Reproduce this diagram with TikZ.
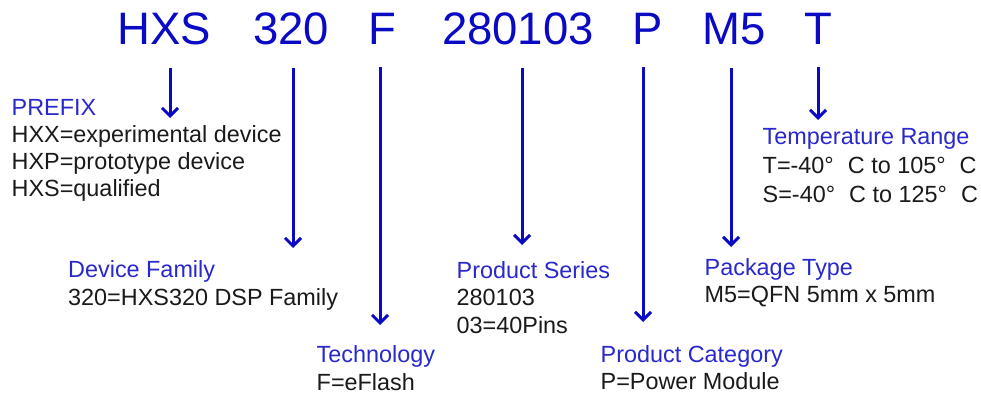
\documentclass[tikz,border=0pt]{standalone}
\usepackage{fontspec}
\setmainfont{Liberation Sans}
\usetikzlibrary{arrows.meta}
\definecolor{PartCode}{HTML}{0A0AC4}
\definecolor{PartLabel}{HTML}{2828CC}
\definecolor{PartInk}{HTML}{1A1A1A}
\tikzset{
  every node/.style={inner sep=0pt, text=PartInk, font=\fontsize{23.4}{27}\selectfont},
  code/.style={anchor=base, text=PartCode, font=\fontsize{45.5}{54}\selectfont},
  heading/.style={anchor=base west, text=PartLabel},
  entry/.style={anchor=base west},
  pointer/.style={-{Straight Barb[length=8pt,width=16pt]}, draw=PartCode, line width=3pt, shorten <=22pt},
}
\begin{document}
\begin{tikzpicture}[x=1pt, y=-1pt]
  \useasboundingbox (0,0) rectangle (981,398);
  % Part number fields
  \foreach \x/\part/\nm in {164/HXS/hxs, 291/320/fam, 382/F/tech, 518/280103/ser,
                            648/P/cat, 734/M5/pkg, 818/T/temp}
    \node[code] (\nm) at (\x,45) {\part};
  % Where each pointer ends
  \foreach \nm/\x/\y in {hxs/170/118, fam/293/248, tech/380/325, ser/522/245,
                         cat/643/322, pkg/731/247, temp/818/120}
    \coordinate (\nm tip) at (\x,\y);
  % Pointers
  \foreach \nm in {hxs, fam, tech, ser, cat, pkg, temp}
    \draw[pointer] (\nm.south -| \nm tip) -- (\nm tip);
  % Prefix
  \node[heading] (prefix) at (11.5,116) {PREFIX};
  \node[entry] (prefixA) at (11.5,143) {HXX=experimental device};
  \node[entry] (prefixB) at (11.5,170) {HXP=prototype device};
  \node[entry] (prefixC) at (11.5,196) {HXS=qualified};
  % Device family
  \node[heading] (family) at (68,277) {Device Family};
  \node[entry] (familyA) at (68,305) {320=HXS320 DSP Family};
  % Technology
  \node[heading] (techno) at (316.5,362) {Technology};
  \node[entry] (technoA) at (316.5,390) {F=eFlash};
  % Product series
  \node[heading] (series) at (456.5,278) {Product Series};
  \node[entry] (seriesA) at (456.5,305) {280103};
  \node[entry] (seriesB) at (456.5,333) {03=40Pins};
  % Product category
  \node[heading] (category) at (600.5,362) {Product Category};
  \node[entry] (categoryA) at (600.5,389) {P=Power Module};
  % Package type
  \node[heading] (package) at (704.5,275) {Package Type};
  \node[entry] (packageA) at (704.5,302) {M5=QFN 5mm x 5mm};
  % Temperature range
  \node[heading] (range) at (762.5,145) {Temperature Range};
  \node[entry] (rangeA) at (762.5,173) {T=-40°\hspace{0.6em}C to 105°\hspace{0.6em}C};
  \node[entry] (rangeB) at (762.5,202) {S=-40°\hspace{0.6em}C to 125°\hspace{0.6em}C};
\end{tikzpicture}
\end{document}
